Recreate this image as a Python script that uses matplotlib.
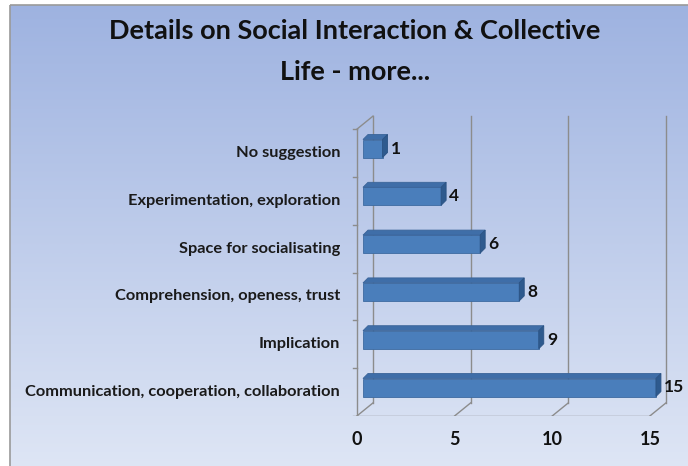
import numpy as np
import matplotlib.pyplot as plt
from matplotlib.patches import Polygon, Rectangle

categories = ['Communication, cooperation, collaboration', 'Implication',
              'Comprehension, openess, trust', 'Space for socialisating',
              'Experimentation, exploration', 'No suggestion']
values = [15, 9, 8, 6, 4, 1]
xticks = [0, 5, 10, 15]

W, H = 688, 466
fig = plt.figure(figsize=(W / 100, H / 100), dpi=100)

# gradient background with border (right/bottom edges run off the image)
bg = fig.add_axes([0, 0, 1, 1])
bg.set_xlim(0, W)
bg.set_ylim(H, 0)
bg.axis('off')
grad = np.linspace(0, 1, 256)[:, None]
top_c = np.array([0.62, 0.70, 0.88])
bot_c = np.array([0.87, 0.90, 0.96])
img = top_c[None, None, :] * (1 - grad[..., None]) + bot_c[None, None, :] * grad[..., None]
bg.imshow(img, extent=[10, W, H, 5], aspect='auto', zorder=0)
bg.add_patch(Rectangle((10, 5), W + 20, H + 20, fill=False, ec='#9a9a9a', lw=1.2,
                       zorder=1, clip_on=False))
bg.set_xlim(0, W)
bg.set_ylim(H, 0)

fig.text(355 / W, 1 - 31 / H, 'Details on Social Interaction & Collective',
         ha='center', va='center', fontsize=19.5, fontweight='bold', family='Lato', color='#111111')
fig.text(355 / W, 1 - 72 / H, 'Life - more...',
         ha='center', va='center', fontsize=19.5, fontweight='bold', family='Lato', color='#111111')

# plot area in "front plane" data coordinates
px_x, px_y = 19.53, 47.8          # pixels per unit
x0_px, y0_px = 357, 392           # front x=0, first category centre
left, right = 340, 685
top, bottom = 110, 416
ax = fig.add_axes([left / W, 1 - bottom / H, (right - left) / W, (bottom - top) / H])
ax.set_xlim((left - x0_px) / px_x, (right - x0_px) / px_x)
ax.set_ylim((y0_px - bottom) / px_y, (y0_px - top) / px_y)
ax.axis('off')

dx, dy = 16 / px_x, 13 / px_y     # wall depth
grid_c = '#8c8c8c'
ylo, yhi = -0.5, len(categories) - 0.5

# back wall grid + floor
for t in xticks:
    ax.plot([t + dx, t + dx], [ylo + dy, yhi + dy], color=grid_c, lw=1)
    ax.plot([t, t + dx], [ylo, ylo + dy], color=grid_c, lw=1)
ax.plot([0, xticks[-1]], [ylo, ylo], color=grid_c, lw=1)
# left wall
ax.plot([0, 0], [ylo, yhi], color=grid_c, lw=1)
ax.plot([0, dx], [yhi, yhi + dy], color=grid_c, lw=1)
for i in range(len(categories) + 1):
    ax.plot([-4 / px_x, 0], [ylo + i, ylo + i], color=grid_c, lw=1)
for t in xticks:
    ax.plot([t, t], [ylo, ylo - 4 / px_y], color=grid_c, lw=1)
    ax.text(t, ylo - 24 / px_y, str(t), ha='center', va='center', fontsize=13,
            fontweight='bold', family='Lato', color='#111111')

# bars
bx0 = 6 / px_x
shift = 4.5 / px_y
hh = 9 / px_y
bdx, bdy = 5 / px_x, 5 / px_y
for i, (cat, v) in enumerate(zip(categories, values)):
    c = i + shift
    ax.add_patch(Rectangle((bx0, c - hh), v, 2 * hh, fc='#4a7ebb', ec='#3d6aa0', lw=0.6, zorder=3))
    ax.add_patch(Polygon([(bx0, c + hh), (bx0 + v, c + hh), (bx0 + v + bdx, c + hh + bdy),
                          (bx0 + bdx, c + hh + bdy)], closed=True, fc='#3f6ea8', ec='#3a6499', lw=0.6, zorder=3))
    ax.add_patch(Polygon([(bx0 + v, c - hh), (bx0 + v + bdx, c - hh + bdy), (bx0 + v + bdx, c + hh + bdy),
                          (bx0 + v, c + hh)], closed=True, fc='#2e5a8e', ec='#2a5283', lw=0.6, zorder=3))
    ax.text(bx0 + v + bdx + 3 / px_x, c, str(v), ha='left', va='center', fontsize=12.5,
            fontweight='bold', family='Lato', color='#111111')
    ax.text((340 - x0_px) / px_x, i, cat, ha='right', va='center', fontsize=11.8,
            fontweight='bold', family='Lato', color='#1a1a1a', clip_on=False)

fig.savefig('out.png', dpi=100)
